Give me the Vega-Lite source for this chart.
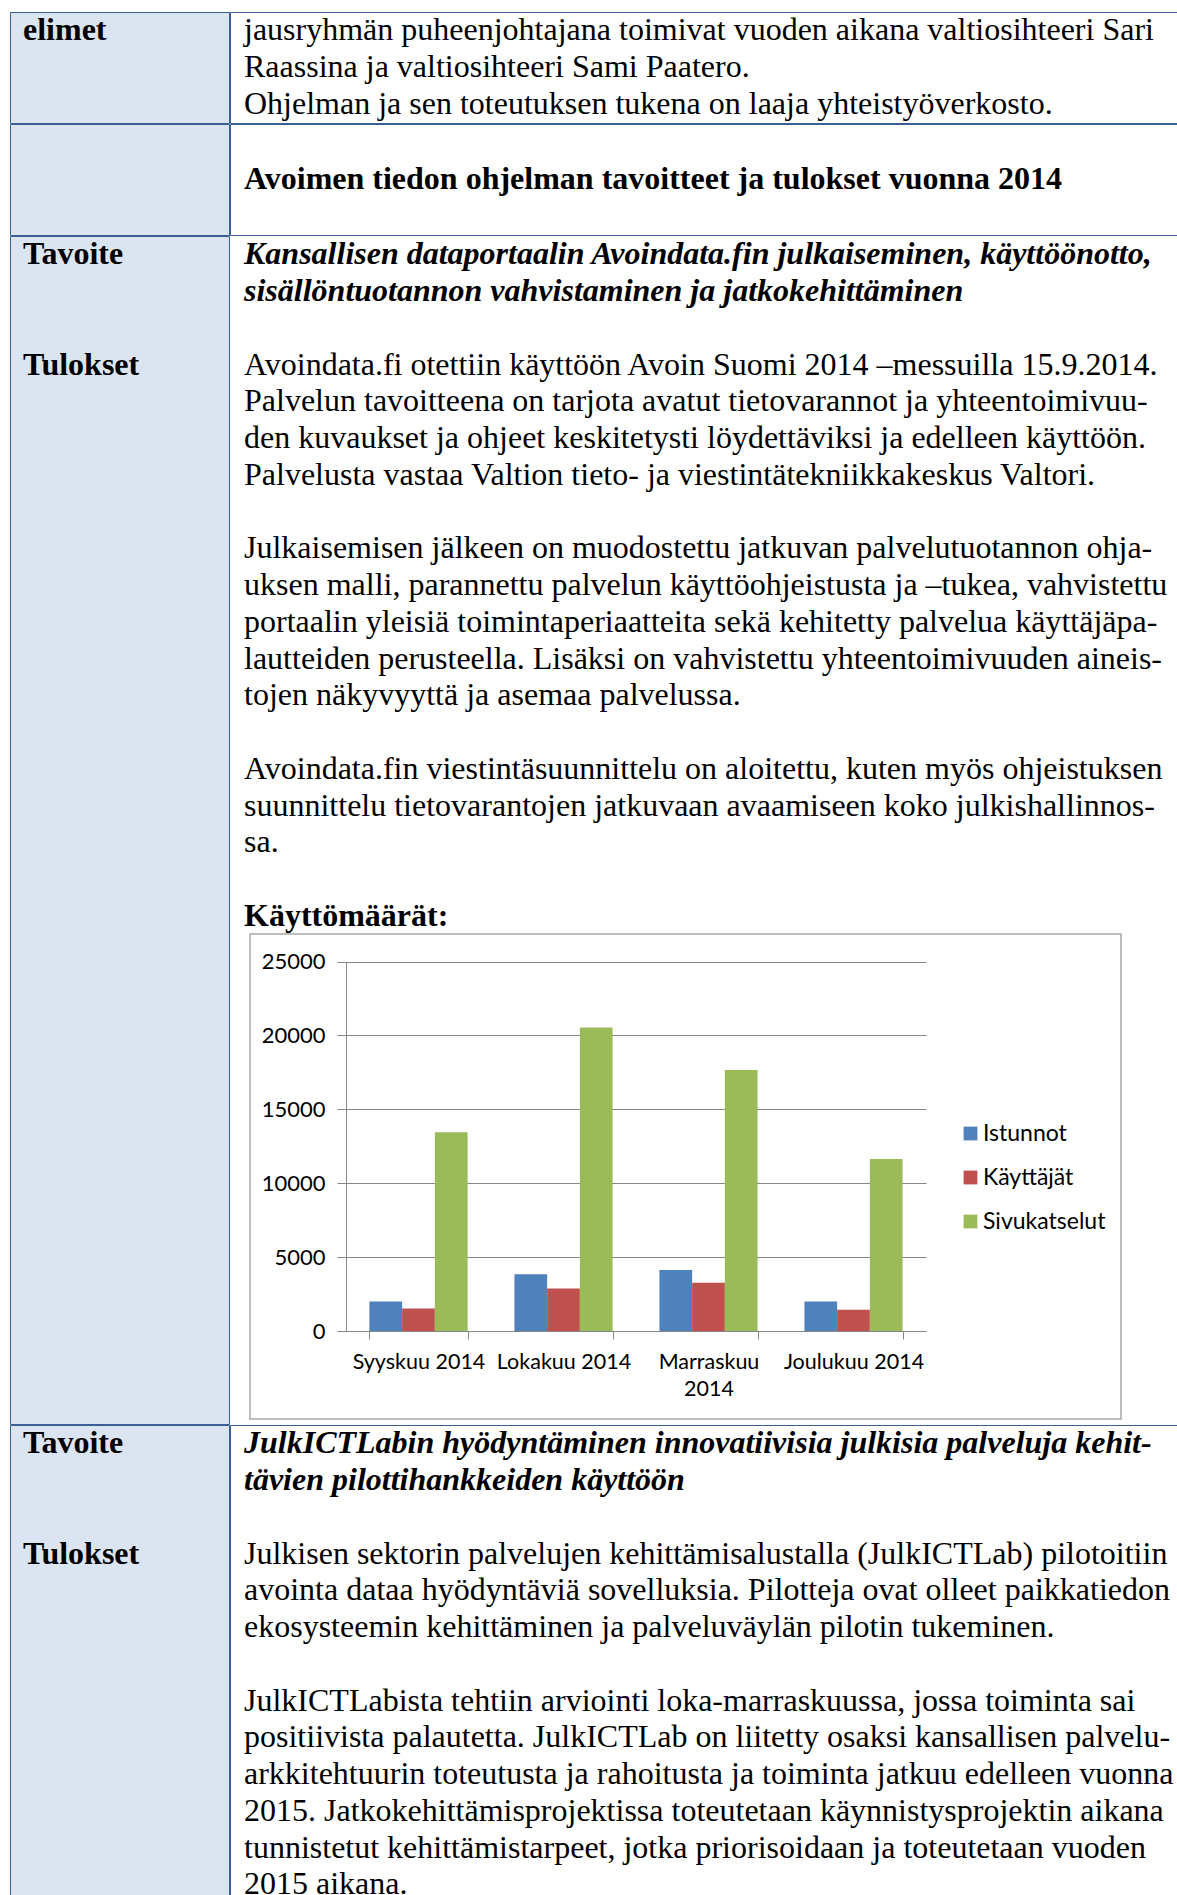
{
  "$schema": "https://vega.github.io/schema/vega-lite/v6.json",
  "padding": {"left": 9, "top": 11, "right": 0, "bottom": 0},
  "background": "white",
  "config": {
    "view": {"stroke": null},
    "concat": {"spacing": 0},
    "text": {"font": "Liberation Serif", "fontSize": 32, "color": "black", "align": "left", "baseline": "middle"}
  },
  "datasets": {
    "doc": [
      {"cell": "L1", "kind": "label", "line": 0, "text": "elimet"},
      {"cell": "B1", "kind": "body", "line": 0, "text": "jausryhmän puheenjohtajana toimivat vuoden aikana valtiosihteeri Sari"},
      {"cell": "B1", "kind": "body", "line": 1, "text": "Raassina ja valtiosihteeri Sami Paatero."},
      {"cell": "B1", "kind": "body", "line": 2, "text": "Ohjelman ja sen toteutuksen tukena on laaja yhteistyöverkosto."},
      {"cell": "B2", "kind": "heading", "line": 1, "text": "Avoimen tiedon ohjelman tavoitteet ja tulokset vuonna 2014"},
      {"cell": "L3", "kind": "label", "line": 0, "text": "Tavoite"},
      {"cell": "L3", "kind": "label", "line": 3, "text": "Tulokset"},
      {"cell": "B3", "kind": "goal", "line": 0, "text": "Kansallisen dataportaalin Avoindata.fin julkaiseminen, käyttöönotto,"},
      {"cell": "B3", "kind": "goal", "line": 1, "text": "sisällöntuotannon vahvistaminen ja jatkokehittäminen"},
      {"cell": "B3", "kind": "body", "line": 3, "text": "Avoindata.fi otettiin käyttöön Avoin Suomi 2014 –messuilla 15.9.2014."},
      {"cell": "B3", "kind": "body", "line": 4, "text": "Palvelun tavoitteena on tarjota avatut tietovarannot ja yhteentoimivuu-"},
      {"cell": "B3", "kind": "body", "line": 5, "text": "den kuvaukset ja ohjeet keskitetysti löydettäviksi ja edelleen käyttöön."},
      {"cell": "B3", "kind": "body", "line": 6, "text": "Palvelusta vastaa Valtion tieto- ja viestintätekniikkakeskus Valtori."},
      {"cell": "B3", "kind": "body", "line": 8, "text": "Julkaisemisen jälkeen on muodostettu jatkuvan palvelutuotannon ohja-"},
      {"cell": "B3", "kind": "body", "line": 9, "text": "uksen malli, parannettu palvelun käyttöohjeistusta ja –tukea, vahvistettu"},
      {"cell": "B3", "kind": "body", "line": 10, "text": "portaalin yleisiä toimintaperiaatteita sekä kehitetty palvelua käyttäjäpa-"},
      {"cell": "B3", "kind": "body", "line": 11, "text": "lautteiden perusteella. Lisäksi on vahvistettu yhteentoimivuuden aineis-"},
      {"cell": "B3", "kind": "body", "line": 12, "text": "tojen näkyvyyttä ja asemaa palvelussa."},
      {"cell": "B3", "kind": "body", "line": 14, "text": "Avoindata.fin viestintäsuunnittelu on aloitettu, kuten myös ohjeistuksen"},
      {"cell": "B3", "kind": "body", "line": 15, "text": "suunnittelu tietovarantojen jatkuvaan avaamiseen koko julkishallinnos-"},
      {"cell": "B3", "kind": "body", "line": 16, "text": "sa."},
      {"cell": "B3", "kind": "caption", "line": 18, "text": "Käyttömäärät:"},
      {"cell": "L4", "kind": "label", "line": 0, "text": "Tavoite"},
      {"cell": "L4", "kind": "label", "line": 3, "text": "Tulokset"},
      {"cell": "B4", "kind": "goal", "line": 0, "text": "JulkICTLabin hyödyntäminen innovatiivisia julkisia palveluja kehit-"},
      {"cell": "B4", "kind": "goal", "line": 1, "text": "tävien pilottihankkeiden käyttöön"},
      {"cell": "B4", "kind": "body", "line": 3, "text": "Julkisen sektorin palvelujen kehittämisalustalla (JulkICTLab) pilotoitiin"},
      {"cell": "B4", "kind": "body", "line": 4, "text": "avointa dataa hyödyntäviä sovelluksia. Pilotteja ovat olleet paikkatiedon"},
      {"cell": "B4", "kind": "body", "line": 5, "text": "ekosysteemin kehittäminen ja palveluväylän pilotin tukeminen."},
      {"cell": "B4", "kind": "body", "line": 7, "text": "JulkICTLabista tehtiin arviointi loka-marraskuussa, jossa toiminta sai"},
      {"cell": "B4", "kind": "body", "line": 8, "text": "positiivista palautetta. JulkICTLab on liitetty osaksi kansallisen palvelu-"},
      {"cell": "B4", "kind": "body", "line": 9, "text": "arkkitehtuurin toteutusta ja rahoitusta ja toiminta jatkuu edelleen vuonna"},
      {"cell": "B4", "kind": "body", "line": 10, "text": "2015. Jatkokehittämisprojektissa toteutetaan käynnistysprojektin aikana"},
      {"cell": "B4", "kind": "body", "line": 11, "text": "tunnistetut kehittämistarpeet, jotka priorisoidaan ja toteutetaan vuoden"},
      {"cell": "B4", "kind": "body", "line": 12, "text": "2015 aikana."}
    ],
    "usage": [
      {"month": "Syyskuu 2014", "series": "Istunnot", "value": 1990},
      {"month": "Syyskuu 2014", "series": "Käyttäjät", "value": 1530},
      {"month": "Syyskuu 2014", "series": "Sivukatselut", "value": 13450},
      {"month": "Lokakuu 2014", "series": "Istunnot", "value": 3840},
      {"month": "Lokakuu 2014", "series": "Käyttäjät", "value": 2870},
      {"month": "Lokakuu 2014", "series": "Sivukatselut", "value": 20540},
      {"month": "Marraskuu 2014", "series": "Istunnot", "value": 4120},
      {"month": "Marraskuu 2014", "series": "Käyttäjät", "value": 3260},
      {"month": "Marraskuu 2014", "series": "Sivukatselut", "value": 17660},
      {"month": "Joulukuu 2014", "series": "Istunnot", "value": 1990},
      {"month": "Joulukuu 2014", "series": "Käyttäjät", "value": 1430},
      {"month": "Joulukuu 2014", "series": "Sivukatselut", "value": 11640}
    ]
  },
  "vconcat": [
    {
      "hconcat": [
        {
          "width": 219, "height": 111,
          "view": {"stroke": "#3a5f94", "strokeWidth": 1, "fill": "#dbe5f1"},
          "data": {"name": "doc"},
          "transform": [{"filter": "datum.cell == 'L1'"}],
          "mark": {"type": "text", "fontWeight": "bold"},
          "encoding": {
            "x": {"value": 13},
            "y": {"field": "line", "type": "quantitative", "scale": {"domain": [-0.503, 2.517], "reverse": true, "nice": false, "zero": false}, "axis": null},
            "text": {"field": "text"}
          }
        },
        {
          "width": 949, "height": 111,
          "view": {"stroke": "#3a5f94", "strokeWidth": 1, "fill": "white"},
          "data": {"name": "doc"},
          "transform": [{"filter": "datum.cell == 'B1'"}],
          "mark": {"type": "text"},
          "encoding": {
            "x": {"value": 14},
            "y": {"field": "line", "type": "quantitative", "scale": {"domain": [-0.503, 2.517], "reverse": true, "nice": false, "zero": false}, "axis": null},
            "text": {"field": "text"}
          }
        }
      ],
      "spacing": -1
    },
    {
      "hconcat": [
        {
          "width": 219, "height": 111,
          "view": {"stroke": "#3a5f94", "strokeWidth": 1, "fill": "#dbe5f1"},
          "data": {"values": []},
          "mark": {"type": "text"},
          "encoding": {}
        },
        {
          "width": 949, "height": 111,
          "view": {"stroke": "#3a5f94", "strokeWidth": 1, "fill": "white"},
          "data": {"name": "doc"},
          "transform": [{"filter": "datum.cell == 'B2'"}],
          "mark": {"type": "text", "fontWeight": "bold"},
          "encoding": {
            "x": {"value": 14},
            "y": {"field": "line", "type": "quantitative", "scale": {"domain": [-0.503, 2.517], "reverse": true, "nice": false, "zero": false}, "axis": null},
            "text": {"field": "text"}
          }
        }
      ],
      "spacing": -1
    },
    {
      "hconcat": [
        {
          "width": 219, "height": 1188,
          "view": {"stroke": "#3a5f94", "strokeWidth": 1, "fill": "#dbe5f1"},
          "data": {"name": "doc"},
          "transform": [{"filter": "datum.cell == 'L3'"}],
          "mark": {"type": "text", "fontWeight": "bold"},
          "encoding": {
            "x": {"value": 13},
            "y": {"field": "line", "type": "quantitative", "scale": {"domain": [-0.503, 31.82], "reverse": true, "nice": false, "zero": false}, "axis": null},
            "text": {"field": "text"}
          }
        },
        {
          "vconcat": [
            {
              "width": 949, "height": 697,
              "data": {"name": "doc"},
              "transform": [{"filter": "datum.cell == 'B3'"}],
              "encoding": {
                "x": {"value": 14},
                "y": {"field": "line", "type": "quantitative", "scale": {"domain": [-0.503, 18.463], "reverse": true, "nice": false, "zero": false}, "axis": null},
                "text": {"field": "text"}
              },
              "layer": [
                {"transform": [{"filter": "datum.kind == 'goal'"}], "mark": {"type": "text", "fontWeight": "bold", "fontStyle": "italic"}},
                {"transform": [{"filter": "datum.kind == 'body'"}], "mark": {"type": "text"}},
                {"transform": [{"filter": "datum.kind == 'caption'"}], "mark": {"type": "text", "fontWeight": "bold"}}
              ]
            },
            {
              "hconcat": [
                {
                  "width": 19, "height": 485,
                  "data": {"values": []},
                  "mark": {"type": "text"},
                  "encoding": {}
                },
                {
                  "width": 871, "height": 485,
                  "view": {"stroke": "#a8a8a8", "strokeWidth": 1.5, "fill": "white"},
                  "data": {"name": "usage"},
                  "mark": {"type": "bar"},
                  "encoding": {
                    "x": {
                      "field": "month", "type": "nominal",
                      "sort": ["Syyskuu 2014", "Lokakuu 2014", "Marraskuu 2014", "Joulukuu 2014"],
                      "scale": {"range": [96, 676], "paddingInner": 0.323, "paddingOuter": 0.1615},
                      "axis": {
                        "orient": "bottom", "offset": -88, "title": null, "grid": false,
                        "tickBand": "extent", "tickSize": 8, "tickColor": "#868686",
                        "domainColor": "#868686", "labelAngle": 0, "labelPadding": 12,
                        "labelFont": "Lato", "labelFontSize": 21.5, "labelColor": "black",
                        "labelLineHeight": 27, "labelOverlap": false, "labelLimit": 0,
                        "labelExpr": "length(datum.label) > 13 ? split(datum.label, ' ') : datum.label"
                      }
                    },
                    "xOffset": {"field": "series", "type": "nominal", "sort": ["Istunnot", "Käyttäjät", "Sivukatselut"]},
                    "y": {
                      "field": "value", "type": "quantitative",
                      "scale": {"domain": [0, 25000], "range": [397, 27.5], "nice": false},
                      "axis": {
                        "orient": "left", "offset": -96, "title": null,
                        "values": [0, 5000, 10000, 15000, 20000, 25000], "format": "d",
                        "grid": true, "gridColor": "#868686", "gridWidth": 1,
                        "domainColor": "#868686", "tickColor": "#868686", "tickSize": 9,
                        "labelPadding": 12, "labelFont": "Lato", "labelFontSize": 22, "labelColor": "black"
                      }
                    },
                    "color": {
                      "field": "series", "type": "nominal",
                      "sort": ["Istunnot", "Käyttäjät", "Sivukatselut"],
                      "scale": {"domain": ["Istunnot", "Käyttäjät", "Sivukatselut"], "range": ["#4f81bd", "#c0504d", "#9bbb59"]},
                      "legend": {
                        "orient": "none", "legendX": 709, "legendY": 188, "title": null,
                        "symbolType": "square", "symbolSize": 190, "symbolStrokeWidth": 0,
                        "labelFont": "Lato", "labelFontSize": 23, "labelColor": "black",
                        "labelOffset": 1, "rowPadding": 20, "padding": 0
                      }
                    }
                  }
                }
              ],
              "spacing": 0,
              "resolve": {"legend": {"color": "independent"}, "scale": {"color": "independent"}}
            }
          ],
          "spacing": 0,
          "resolve": {"legend": {"color": "independent"}, "scale": {"color": "independent"}}
        }
      ],
      "spacing": -0.5,
      "resolve": {"legend": {"color": "independent"}, "scale": {"color": "independent"}}
    },
    {
      "hconcat": [
        {
          "width": 219, "height": 474,
          "view": {"stroke": "#3a5f94", "strokeWidth": 1, "fill": "#dbe5f1"},
          "data": {"name": "doc"},
          "transform": [{"filter": "datum.cell == 'L4'"}],
          "mark": {"type": "text", "fontWeight": "bold"},
          "encoding": {
            "x": {"value": 13},
            "y": {"field": "line", "type": "quantitative", "scale": {"domain": [-0.503, 12.395], "reverse": true, "nice": false, "zero": false}, "axis": null},
            "text": {"field": "text"}
          }
        },
        {
          "width": 949, "height": 474,
          "view": {"stroke": "#3a5f94", "strokeWidth": 1, "fill": "white"},
          "data": {"name": "doc"},
          "transform": [{"filter": "datum.cell == 'B4'"}],
          "encoding": {
            "x": {"value": 14},
            "y": {"field": "line", "type": "quantitative", "scale": {"domain": [-0.503, 12.395], "reverse": true, "nice": false, "zero": false}, "axis": null},
            "text": {"field": "text"}
          },
          "layer": [
            {"transform": [{"filter": "datum.kind == 'goal'"}], "mark": {"type": "text", "fontWeight": "bold", "fontStyle": "italic"}},
            {"transform": [{"filter": "datum.kind == 'body'"}], "mark": {"type": "text"}}
          ]
        }
      ],
      "spacing": -1
    }
  ],
  "spacing": -1,
  "resolve": {"legend": {"color": "independent"}, "scale": {"color": "independent"}}
}
